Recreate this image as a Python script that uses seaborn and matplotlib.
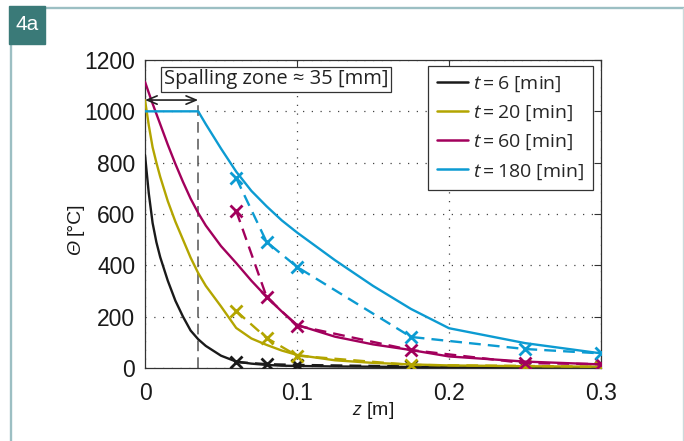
import numpy as np
import pandas as pd
import matplotlib
matplotlib.use("Agg")
import matplotlib.pyplot as plt
import seaborn as sns
from matplotlib.lines import Line2D
from matplotlib.patches import Rectangle

# ---------------- data ----------------
z_model = [0, 0.0025, 0.005, 0.0075, 0.01, 0.015, 0.02, 0.025, 0.03, 0.035, 0.04,
           0.05, 0.06, 0.07, 0.08, 0.09, 0.1, 0.125, 0.15, 0.175, 0.2, 0.25, 0.3]
theta_t6 = [830, 680, 565, 490, 432, 340, 262, 200, 146, 112, 86,
            48, 25, 17, 12, 9, 8, 6, 5, 4, 3, 2, 2]
theta_t20 = [1044, 945, 860, 800, 745, 650, 570, 500, 430, 370, 320,
             240, 156, 115, 90, 68, 51, 30, 20, 14, 10, 7, 5]
theta_t60 = [1115, 1072, 1030, 990, 950, 870, 795, 725, 660, 604, 555,
             475, 409, 340, 277, 220, 168, 122, 92, 70, 45, 25, 14]
theta_t180 = [1000, 1000, 1000, 1000, 1000, 1000, 1000, 1000, 1000, 1000, 950,
              855, 765, 690, 630, 575, 528, 420, 320, 230, 155, 97, 57]

z_meas = [0.06, 0.08, 0.1, 0.175, 0.25, 0.3]
meas_t6 = [23, 15, 12, 6, 4, 3]
meas_t20 = [222, 117, 48, 12, 8, 5]
meas_t60 = [612, 277, 165, 70, 19, 15]
meas_t180 = [740, 491, 394, 121, 74, 57]

times = [6, 20, 60, 180]
labels = [r"$t=6$ [min]", r"$t=20$ [min]", r"$t=60$ [min]", r"$t=180$ [min]"]
colors = ["#1a1a1a", "#b3a500", "#a2005c", "#0c9bd2"]

xticks = [0, 0.1, 0.2, 0.3]
xticklabels = ["0", "0.1", "0.2", "0.3"]
yticks = [0, 200, 400, 600, 800, 1000, 1200]

spalling_depth = 0.035
spalling_level = 1044

model_df = pd.DataFrame({
    "z": z_model * 4,
    "theta": theta_t6 + theta_t20 + theta_t60 + theta_t180,
    "t": sum([[t] * len(z_model) for t in times], []),
})
meas_df = pd.DataFrame({
    "z": z_meas * 4,
    "theta": meas_t6 + meas_t20 + meas_t60 + meas_t180,
    "t": sum([[t] * len(z_meas) for t in times], []),
})

# ---------------- style ----------------
sns.set_theme(style="white")
plt.rcParams["font.family"] = ["Liberation Sans", "DejaVu Sans"]
plt.rcParams["mathtext.fontset"] = "custom"
plt.rcParams["mathtext.rm"] = "Open Sans"
plt.rcParams["mathtext.it"] = "Open Sans:italic"

TXT_FONT = ["Open Sans", "DejaVu Sans"]

W, H = 684, 441
fig = plt.figure(figsize=(W / 100, H / 100), dpi=100)
ax = fig.add_axes([145 / W, 1 - 368 / H, (601 - 145) / W, (368 - 60) / H])

for t, col in zip(times, colors):
    sns.lineplot(data=model_df[model_df.t == t], x="z", y="theta", color=col,
                 lw=1.7, ax=ax, legend=False, sort=False, zorder=3)
    sns.lineplot(data=meas_df[meas_df.t == t], x="z", y="theta", color=col,
                 lw=1.7, linestyle=(0, (5, 3)), marker="x", markersize=9,
                 markeredgewidth=2, markeredgecolor=col, ax=ax, legend=False,
                 sort=False, zorder=3)

# spalling zone marker
ax.plot([spalling_depth, spalling_depth], [0, spalling_level], color="#555555",
        lw=1.1, linestyle=(0, (7, 4)), zorder=2)
ax.annotate("", xy=(0, spalling_level), xytext=(spalling_depth, spalling_level),
            arrowprops=dict(arrowstyle="<->,head_length=0.6,head_width=0.25",
                            color="#222222", lw=1.2, shrinkA=0, shrinkB=0),
            zorder=4)
ax.text(0.041, 0.938, "Spalling zone \u2248 35 [mm]", transform=ax.transAxes,
        ha="left", va="center", fontsize=14.5, family=TXT_FONT,
        color="#222222",
        bbox=dict(boxstyle="square,pad=0.12", fc="white", ec="#333333", lw=0.9),
        zorder=5)

ax.set_xlim(0, 0.3)
ax.set_ylim(0, 1200)
ax.set_xticks(xticks)
ax.set_xticklabels(xticklabels)
ax.set_yticks(yticks)
ax.grid(True, linestyle=(0, (1, 6)), color="#444444", lw=0.9)
ax.tick_params(direction="in", top=True, right=True, length=5, width=0.8,
               labelsize=16.5, colors="#333333", labelcolor="#1a1a1a")
ax.tick_params(axis="x", pad=10)
ax.tick_params(axis="y", pad=7)
for s in ax.spines.values():
    s.set_color("#333333")
    s.set_linewidth(0.9)

ax.set_xlabel(r"$z$ [m]", fontsize=14, color="#1a1a1a",
              family=["Liberation Sans", "DejaVu Sans"])
ax.xaxis.set_label_coords(0.5, -0.105)
ax.set_ylabel("")
# y label: italic Theta + upright unit
ax.text(-0.153, 0.39, "\u0398", transform=ax.transAxes, rotation=90,
        ha="center", va="center", fontsize=14, fontstyle="italic", color="#1a1a1a")
ax.text(-0.153, 0.485, "[°C]", transform=ax.transAxes, rotation=90,
        ha="center", va="center", fontsize=14, color="#1a1a1a")

handles = [Line2D([0], [0], color=c, lw=1.8) for c in colors]
leg = ax.legend(handles, labels, loc="upper right", bbox_to_anchor=(0.982, 0.981),
                prop={"family": TXT_FONT, "size": 14},
                frameon=True, fancybox=False, framealpha=1, edgecolor="#333333",
                handlelength=1.6, handletextpad=0.25, labelspacing=0.5,
                borderpad=0.45, borderaxespad=0)
leg.get_frame().set_linewidth(0.9)
leg.set_zorder(6)

# ---------------- panel frame ----------------
def fx(x):
    return x / W

def fy(y):
    return 1 - y / H

fig.add_artist(Line2D([fx(11), fx(11)], [fy(8), fy(441)], color="#9cbfc3", lw=1.7,
                      transform=fig.transFigure))
fig.add_artist(Line2D([fx(11), fx(684)], [fy(8), fy(8)], color="#9cbfc3", lw=1.7,
                      transform=fig.transFigure))
fig.add_artist(Line2D([fx(683), fx(683)], [fy(8), fy(441)], color="#ccd9db", lw=1.0,
                      transform=fig.transFigure))
fig.add_artist(Rectangle((fx(9), fy(44)), 36 / W, 38 / H, color="#3a7a78",
                         transform=fig.transFigure, zorder=10))
fig.text(fx(27), fy(25), "4a", color="white", fontsize=15, ha="center", va="center",
         zorder=11)

fig.savefig("out.png", dpi=100)
